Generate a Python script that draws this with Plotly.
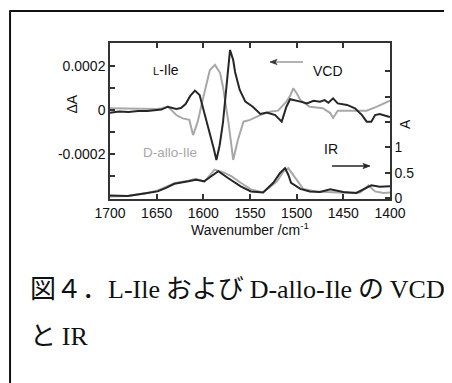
import plotly.graph_objects as go

# ---------------- data ----------------
vcd_l_wn = [1700, 1690, 1680, 1670, 1660, 1650, 1645, 1638, 1633, 1629, 1624, 1619, 1614, 1609,
            1604, 1599, 1593, 1589, 1586, 1582.5, 1579, 1575, 1571.4, 1568, 1566, 1561, 1555,
            1547, 1539, 1532, 1523, 1516, 1511, 1507, 1502, 1496, 1489, 1482, 1475, 1470, 1466,
            1461, 1456, 1446, 1437.5, 1430, 1425, 1420, 1416, 1411, 1404, 1400]
vcd_l = [-0.12e-4, -0.07e-4, -0.09e-4, -0.05e-4, -0.05e-4, -0.02e-4, 0.02e-4, 0.15e-4, 0.09e-4,
         0.05e-4, 0.09e-4, 0.27e-4, 0.64e-4, 0.88e-4, 0.68e-4, -0.09e-4, -1.05e-4, -1.73e-4,
         -2.27e-4, -1.60e-4, -0.59e-4, 1.23e-4, 2.73e-4, 2.27e-4, 1.73e-4, 0.91e-4, 0.38e-4,
         0.15e-4, -0.18e-4, -0.12e-4, -0.23e-4, -0.53e-4, 0.15e-4, 0.49e-4, 0.45e-4, 0.38e-4,
         0.30e-4, 0.42e-4, 0.38e-4, 0.45e-4, 0.33e-4, 0.53e-4, 0.30e-4, 0.23e-4, 0.08e-4,
         -0.23e-4, -0.53e-4, -0.53e-4, -0.23e-4, -0.18e-4, -0.27e-4, -0.32e-4]

vcd_d_wn = [1700, 1690, 1680, 1670, 1660, 1650, 1645, 1638, 1633, 1629, 1622, 1615, 1611, 1606,
            1602, 1598, 1593, 1587.5, 1582, 1579, 1573, 1568, 1563, 1557, 1550, 1539, 1529, 1520,
            1511, 1507, 1503.6, 1500, 1496, 1486, 1472, 1464, 1461, 1456, 1436, 1425, 1414, 1400]
vcd_d = [0.08e-4, 0.07e-4, 0.05e-4, 0.07e-4, 0.05e-4, 0.05e-4, 0.07e-4, 0.15e-4, -0.05e-4,
         -0.23e-4, -0.38e-4, -0.45e-4, -1.14e-4, -0.53e-4, 0.23e-4, 0.91e-4, 1.82e-4, 2.05e-4,
         1.68e-4, 1.06e-4, -0.59e-4, -2.27e-4, -1.36e-4, -0.53e-4, -0.45e-4, -0.23e-4, -0.08e-4,
         -0.03e-4, 0.38e-4, 0.64e-4, 0.99e-4, 0.76e-4, 0.45e-4, 0.15e-4, 0.08e-4, -0.14e-4,
         -0.36e-4, -0.03e-4, -0.03e-4, -0.03e-4, 0.15e-4, 0.42e-4]

ir_l_wn = [1700, 1681, 1660, 1649, 1640, 1631, 1616, 1608, 1599, 1590, 1584, 1574, 1560, 1549,
           1536, 1525, 1518, 1512.5, 1509, 1506, 1496, 1486, 1475, 1464, 1450, 1436, 1425, 1420,
           1411, 1400]
ir_l = [0.05, 0.04, 0.10, 0.13, 0.20, 0.28, 0.33, 0.36, 0.33, 0.46, 0.53, 0.40, 0.23, 0.13,
        0.11, 0.30, 0.49, 0.59, 0.46, 0.30, 0.18, 0.13, 0.12, 0.17, 0.12, 0.10, 0.20, 0.25,
        0.22, 0.23]

ir_d_wn = [1700, 1681, 1660, 1649, 1640, 1631, 1616, 1608, 1599, 1588, 1578, 1570, 1560, 1549,
           1536, 1521, 1514, 1509, 1504, 1498, 1493, 1479, 1461, 1443, 1432, 1423, 1416, 1407, 1400]
ir_d = [0.03, 0.04, 0.10, 0.15, 0.22, 0.29, 0.34, 0.38, 0.32, 0.56, 0.50, 0.43, 0.30, 0.17,
        0.11, 0.33, 0.53, 0.59, 0.46, 0.30, 0.18, 0.13, 0.11, 0.10, 0.11, 0.25, 0.13, 0.10, 0.11]

x_ticks = [1700, 1650, 1600, 1550, 1500, 1450, 1400]
vcd_tickvals = [-0.0002, 0, 0.0002]
vcd_ticktext = ["-0.0002", "0", "0.0002"]
vcd_minor = [-0.0003, -0.0001, 0.0001]
ir_tickvals = [0, 0.5, 1]
ir_ticktext = ["0", "0.5", "1"]
ir_minor = [1.5, 2, 2.5]

BLACK = "#262626"
GRAY = "#a8a8a8"
AX = "#333333"
SANS = "Liberation Sans, Arial, sans-serif"

fig = go.Figure()
fig.add_trace(go.Scatter(x=vcd_d_wn, y=vcd_d, mode="lines", line=dict(color=GRAY, width=2), yaxis="y"))
fig.add_trace(go.Scatter(x=vcd_l_wn, y=vcd_l, mode="lines", line=dict(color=BLACK, width=2), yaxis="y"))
fig.add_trace(go.Scatter(x=ir_d_wn, y=ir_d, mode="lines", line=dict(color=GRAY, width=2), yaxis="y2"))
fig.add_trace(go.Scatter(x=ir_l_wn, y=ir_l, mode="lines", line=dict(color=BLACK, width=2), yaxis="y2"))

tick_common = dict(ticks="inside", ticklen=5, tickwidth=1.5, tickcolor=AX, showline=True,
                   linecolor=AX, linewidth=1.5, showgrid=False, zeroline=False,
                   tickfont=dict(family=SANS, size=14, color="#111"))

fig.update_layout(
    width=444, height=375,
    margin=dict(l=102, r=62, t=35, b=184),
    paper_bgcolor="white", plot_bgcolor="white",
    showlegend=False,
    font=dict(family=SANS, size=14, color="#111"),
    xaxis=dict(range=[1700, 1400], tickvals=x_ticks, mirror="ticks", **tick_common),
    yaxis=dict(range=[-4.045e-4, 3.045e-4], tickvals=vcd_tickvals, ticktext=vcd_ticktext,
               minor=dict(tickvals=vcd_minor, ticks="inside", ticklen=5, tickwidth=1.5,
                          tickcolor=AX, showgrid=False),
               **tick_common),
    yaxis2=dict(range=[-0.02, 3.06], overlaying="y", side="right", tickvals=ir_tickvals,
                ticktext=ir_ticktext,
                minor=dict(tickvals=ir_minor, ticks="inside", ticklen=5, tickwidth=1.5,
                           tickcolor=AX, showgrid=False),
                **tick_common),
)

def ann(text, x, y, **kw):
    d = dict(text=text, x=x, y=y, xref="paper", yref="paper", showarrow=False,
             xanchor="center", yanchor="middle")
    d.update(kw)
    fig.add_annotation(**d)

ann("ΔA", -0.1375, 0.609, textangle=-90, font=dict(family=SANS, size=14, color="#111"))
ann("A", 1.054, 0.481, textangle=-90, font=dict(family=SANS, size=14, color="#111"))
ann("Wavenumber /cm<sup>-1</sup>", 0.5, -0.192, font=dict(family=SANS, size=14, color="#111"))
ann("<span style='font-size:11px'>L</span>-Ile", 0.2, 0.827, font=dict(family=SANS, size=14, color="#111"))
ann("VCD", 0.779, 0.821, font=dict(family=SANS, size=14, color="#111"))
ann("D-allo-Ile", 0.214, 0.301, font=dict(family=SANS, size=13.5, color=GRAY))
ann("IR", 0.791, 0.321, font=dict(family=SANS, size=14, color="#111"))

# arrows (line + head) in paper coordinates
fig.add_shape(type="line", xref="paper", yref="paper", x0=0.5893, x1=0.6893, y0=0.8782, y1=0.8782,
              line=dict(color="#8a8a8a", width=1.3))
fig.add_shape(type="path", xref="paper", yref="paper",
              path="M 0.5714 0.8782 L 0.5964 0.8942 L 0.5893 0.8782 L 0.5964 0.8622 Z",
              fillcolor="#333", line=dict(color="#333", width=0.8))
fig.add_shape(type="line", xref="paper", yref="paper", x0=0.7929, x1=0.9107, y0=0.2115, y1=0.2115,
              line=dict(color="#222", width=1.3))
fig.add_shape(type="path", xref="paper", yref="paper",
              path="M 0.9286 0.2115 L 0.9036 0.2276 L 0.9107 0.2115 L 0.9036 0.1955 Z",
              fillcolor="#222", line=dict(color="#222", width=0.8))

# caption
def s(t):
    return "<span style=\"font-family:'Liberation Serif'\">" + t + "</span>"
CJK = "Noto Sans CJK JP"
line1 = "図４．" + s("L-Ile") + " および " + s("D-allo-Ile") + " の " + s("VCD")
line2 = "と " + s("IR")
ann(line1, -0.293, -0.564, xanchor="left", font=dict(family=CJK, size=26, color="#111"))
ann(line2, -0.293, -0.865, xanchor="left", font=dict(family=CJK, size=26, color="#111"))

# page border
fig.add_shape(type="line", xref="paper", yref="paper", x0=-0.357, x1=1.3, y0=1.205, y1=1.205,
              line=dict(color="#111", width=2))
fig.add_shape(type="line", xref="paper", yref="paper", x0=-0.357, x1=-0.357, y0=1.21, y1=-1.3,
              line=dict(color="#111", width=2))

fig.write_html("out.html")
